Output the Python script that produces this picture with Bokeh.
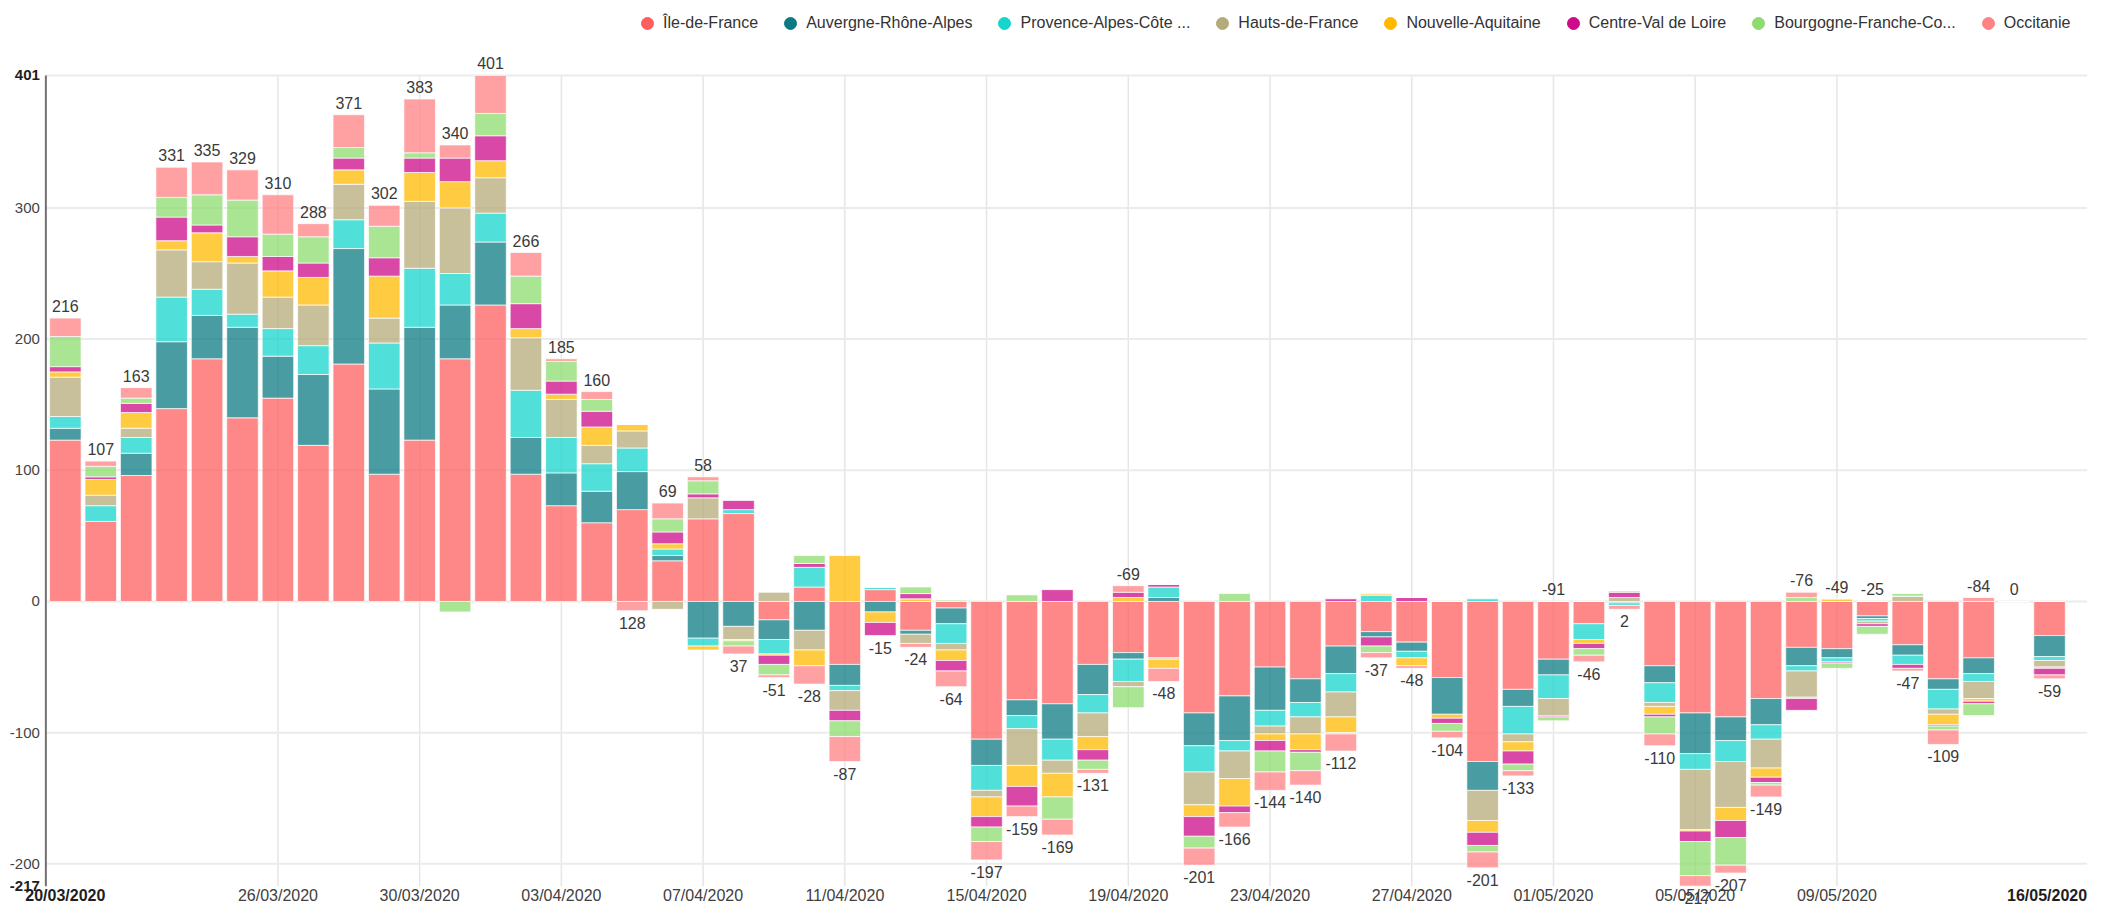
import numpy as np
import pandas as pd
from bokeh.plotting import figure
from bokeh.models import ColumnDataSource, Legend, LegendItem, Range1d
from bokeh.core.properties import value
from bokeh.embed import file_html
from bokeh.resources import INLINE

# ---------------- data ----------------
dates = pd.date_range("2020-03-20", "2020-05-15", freq="D")
axis_end_date = pd.Timestamp("2020-05-16")

legend_labels = ["Île-de-France", "Auvergne-Rhône-Alpes", "Provence-Alpes-Côte ...",
                 "Hauts-de-France", "Nouvelle-Aquitaine", "Centre-Val de Loire",
                 "Bourgogne-Franche-Co...", "Occitanie"]

ile_de_france = [123, 61, 96, 147, 185, 140, 155, 119, 181, 97, 123, 185, 226, 97, 73, 60, 70, 31, 63, 67,
                 -14, 11, -48, 9, -22, -5, -105, -75, -78, -48, -39, -43, -85, -72, -50, -59, -34, -23, -31, -58,
                 -122, -67, -44, -17, 0, -49, -85, -88, -74, -35, -36, -11, -33, -59, -43, 0, -26]
auvergne_rhone_alpes = [9, 0, 17, 51, 33, 69, 32, 54, 88, 65, 86, 41, 48, 28, 25, 24, 29, 4, -28, -19,
                        -15, -22, -16, -8, -3, -12, -20, -12, -27, -23, -5, 3, -25, -34, -33, -18, -21, -4, -7, -28,
                        -22, -13, -12, 0, -1, -13, -31, -18, -20, -14, -7, -2, -8, -8, -12, 0, -16]
provence = [9, 12, 12, 34, 20, 10, 21, 22, 22, 35, 45, 24, 22, 36, 27, 21, 18, 5, -6, 3,
            -11, 15, -4, 2, 0, -15, -19, -10, -16, -14, -17, 8, -20, -8, -12, -11, -14, 5, -5, 0,
            2, -21, -18, -12, -2, -15, -12, -16, -11, -4, -3, -2, -7, -15, -6, 0, -3]
hauts_de_france = [30, 8, 7, 36, 21, 39, 24, 31, 27, 19, 51, 50, 27, 40, 29, 14, 13, -6, 16, -10,
                   7, -15, -15, 0, -7, -5, -5, -28, -10, -18, -4, -1, -25, -21, -6, -13, -19, 0, 0, 0,
                   -23, -6, -13, 0, 3, -3, -46, -35, -22, -20, 0, -2, 4, -4, -13, 0, -5]
nouvelle_aquitaine = [4, 12, 12, 7, 22, 5, 20, 21, 11, 32, 22, 20, 13, 7, 4, 14, 5, 4, -3, -1,
                      -1, -12, 35, -8, 2, -8, -15, -16, -18, -10, 3, -7, -9, -21, -5, -12, -12, 1, -6, -3,
                      -9, -7, 0, -3, 0, -6, -1, -10, -7, -1, 2, 0, 0, -8, -2, 0, -1]
centre_val_de_loire = [4, 2, 7, 18, 6, 15, 11, 11, 9, 14, 11, 18, 19, 19, 10, 12, 0, 9, 3, 7,
                       -7, 3, -8, -10, 4, -8, -8, -15, 9, -8, 4, 2, -15, -5, -8, -2, 2, -7, 3, -4,
                       -10, -10, -1, -4, 4, -2, -8, -13, -4, -9, -1, -2, -3, -1, -2, 0, -5]
bourgogne_franche_comte = [23, 8, 4, 15, 23, 28, 17, 20, 8, 24, 4, -8, 17, 21, 15, 9, 0, 10, 10, -4,
                           -8, 6, -12, 0, 5, 1, -11, 5, -17, -7, -16, 0, -9, 6, -16, -14, -1, -5, 0, -6,
                           -5, -5, -3, -5, 1, -13, -26, -21, -2, 3, -4, -6, 2, -3, -9, 0, 0]
occitanie = [14, 4, 8, 23, 25, 23, 30, 10, 25, 16, 41, 10, 29, 18, 2, 6, -7, 12, 3, -6,
             -2, -14, -19, 0, -3, -12, -14, -8, -12, -3, 5, -10, -13, -11, -14, -11, -13, -4, -2, -5,
             -12, -4, 0, -5, -3, -9, -8, -6, -9, 4, 0, 0, -2, -11, 3, 0, -3]

# where each total label sits: above the stack or below it
label_side = ["above"] * 16 + ["below", "above", "above"] + ["below"] * 11 + ["above"] + ["below"] * 11 + \
             ["above", "below", "below", "below", "below", "below", "below", "above", "above", "above",
              "below", "below", "above", "above", "below"]

tick_dates = ["26/03/2020", "30/03/2020", "03/04/2020", "07/04/2020", "11/04/2020", "15/04/2020",
              "19/04/2020", "23/04/2020", "27/04/2020", "01/05/2020", "05/05/2020", "09/05/2020"]
y_min, y_max = -217, 401
y_ticks = [-200, -100, 0, 100, 200, 300]

series = [ile_de_france, auvergne_rhone_alpes, provence, hauts_de_france,
          nouvelle_aquitaine, centre_val_de_loire, bourgogne_franche_comte, occitanie]
dot_colors = ["#FD5F5F", "#0B7B83", "#16D6CC", "#B5AB78", "#FFBA00", "#CC0A8A", "#8EDC70", "#FF8284"]

# ---------------- figure ----------------
FONT = "Liberation Sans"
n = len(dates)
xs = np.arange(n)
day_of = {d.strftime("%d/%m/%Y"): i for i, d in enumerate(dates)}
x_end = (axis_end_date - dates[0]).days
axis_left = -0.55            # where the value axis sits (day units)
grid_right = x_end + 0.06    # right end of the plotting area

p = figure(width=2088, height=912, output_backend="svg", toolbar_location=None,
           x_range=Range1d(-1.83, 57.10), y_range=Range1d(-237.1, 458.1),
           min_border_left=0, min_border_right=0, min_border_top=0, min_border_bottom=0)
p.outline_line_color = None
p.background_fill_color = "white"
p.border_fill_color = "white"
p.xaxis.visible = False
p.yaxis.visible = False
p.xgrid.visible = False
p.ygrid.visible = False

# grid lines
grid_x = [day_of[d] for d in tick_dates]
p.segment(x0=grid_x, y0=[y_min] * len(grid_x), x1=grid_x, y1=[y_max] * len(grid_x),
          line_color="#E6E6E6", line_width=1.5)
gy = y_ticks + [y_max]
p.segment(x0=[axis_left] * len(gy), y0=gy, x1=[grid_right] * len(gy), y1=gy,
          line_color="#EBEBEB", line_width=2)

# stacked bars (positives stacked upward, negatives downward)
pos_base = np.zeros(n)
neg_base = np.zeros(n)
items = []
for vals, col, lab in zip(series, dot_colors, legend_labels):
    v = np.array(vals, dtype=float)
    bottom = np.where(v >= 0, pos_base, neg_base)
    top = bottom + v
    pos_base = np.where(v >= 0, top, pos_base)
    neg_base = np.where(v < 0, top, neg_base)
    src = ColumnDataSource(dict(x=xs, top=top, bottom=bottom))
    p.vbar(x="x", top="top", bottom="bottom", width=0.89, source=src,
           fill_color=col, fill_alpha=0.75, line_color="white", line_width=1, line_alpha=0.7)
    r = p.scatter(x=[np.nan], y=[np.nan], marker="circle", size=13, color=col)
    items.append(LegendItem(label=lab, renderers=[r]))

# value axis line
p.segment(x0=[axis_left], y0=[y_min], x1=[axis_left], y1=[y_max], line_color="#707070", line_width=2)

# value axis labels
ysrc = ColumnDataSource(dict(x=[axis_left] * len(y_ticks), y=y_ticks, t=[str(t) for t in y_ticks]))
p.text(x="x", y="y", text="t", source=ysrc, x_offset=-6, text_align="right", text_baseline="middle",
       text_font=value(FONT), text_font_size=value("15px"), text_color="#444444")
p.text(x=[axis_left, axis_left], y=[y_max, y_min], text=[str(y_max), str(y_min)], x_offset=-6,
       text_align="right", text_baseline="middle", text_font=value(FONT),
       text_font_size=value("15px"), text_font_style="bold", text_color="#1E1E1E")

# date labels
xl = ColumnDataSource(dict(x=grid_x, y=[y_min] * len(grid_x), t=tick_dates))
p.text(x="x", y="y", text="t", source=xl, y_offset=9, text_align="center", text_baseline="middle",
       text_font=value(FONT), text_font_size=value("16px"), text_color="#404040")
p.text(x=[0], y=[y_min], text=[dates[0].strftime("%d/%m/%Y")], y_offset=9, text_align="center",
       text_baseline="middle", text_font=value(FONT), text_font_size=value("16px"),
       text_font_style="bold", text_color="#1E1E1E")
p.text(x=[grid_right], y=[y_min], text=[axis_end_date.strftime("%d/%m/%Y")], y_offset=9,
       text_align="right", text_baseline="middle", text_font=value(FONT),
       text_font_size=value("16px"), text_font_style="bold", text_color="#1E1E1E")

# totals
totals = np.array(series, dtype=float).sum(axis=0)
side = np.array(label_side)
lab_y = np.where(side == "above", pos_base, neg_base)
lab_off = np.where(side == "above", -12, 12)
tsrc = ColumnDataSource(dict(x=xs, y=lab_y, off=lab_off, t=[str(int(t)) for t in totals]))
p.text(x="x", y="y", text="t", y_offset="off", source=tsrc, text_align="center",
       text_baseline="middle", text_font=value(FONT), text_font_size=value("16px"),
       text_color="#3A3A3A")

legend = Legend(items=items, orientation="horizontal", location=(631, 874),
                label_text_font=FONT, label_text_font_size="16px", label_text_color="#333333",
                label_text_baseline="middle",
                glyph_width=32, glyph_height=30, label_standoff=-6, spacing=16, padding=0, margin=0,
                border_line_alpha=0, background_fill_alpha=0)
p.add_layout(legend)

open("out.html", "w").write(file_html(p, INLINE))
